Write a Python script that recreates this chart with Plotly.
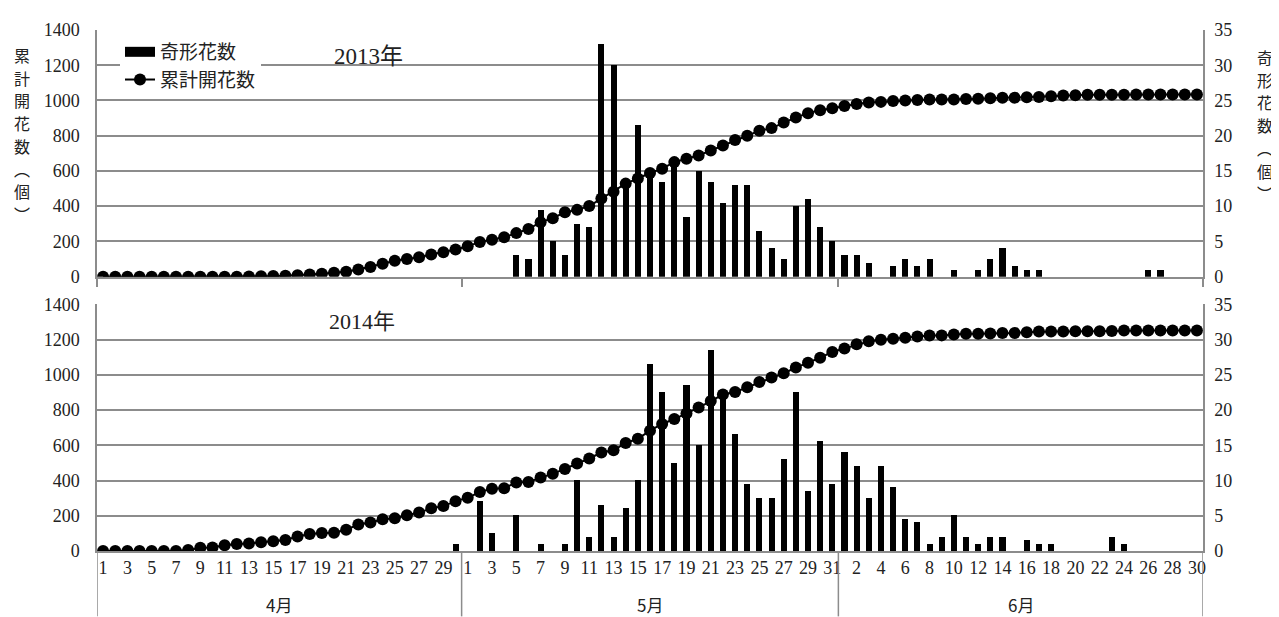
import plotly.graph_objects as go

# ---------------- data ----------------
months = ["4月", "5月", "6月"]
month_days = [30, 31, 30]
day_labels = [str(d) for n in month_days for d in range(1, n + 1)]

cum_2013 = [0, 0, 0, 0, 0, 0, 0, 0, 0, 0, 0, 0, 1, 2, 3, 5, 8, 12, 17, 22,
            28, 41, 55, 73, 90, 100, 110, 126, 139, 154,
            172, 197, 210, 223, 247, 270, 309, 332, 365, 379, 401, 444, 482, 528, 557,
            588, 613, 650, 669, 688, 716, 744, 776, 800, 828, 843, 875, 903, 928, 945, 956,
            969, 980, 988, 992, 997, 1000, 1003, 1005, 1006, 1006, 1008, 1010, 1012, 1015, 1016,
            1018, 1020, 1024, 1028, 1030, 1032, 1032, 1033, 1033, 1034, 1034, 1034, 1034, 1034, 1034]
mal_2013 = [0] * 30 + \
    [0, 0, 0, 0, 3, 2.5, 9.5, 5, 3, 7.5, 7, 33, 30, 13, 21.5, 14.5, 13.5, 15.5, 8.5, 15,
     13.5, 10.5, 13, 13, 6.5, 4, 2.5, 10, 11, 7, 5] + \
    [3, 3, 2, 0, 1.5, 2.5, 1.5, 2.5, 0, 1, 0, 1, 2.5, 4, 1.5, 1, 1, 0, 0, 0,
     0, 0, 0, 0, 0, 1, 1, 0, 0, 0]

cum_2014 = [0, 0, 0, 0, 0, 0, 0, 5, 18, 20, 33, 40, 42, 50, 56, 62, 82, 97, 102, 104,
            121, 150, 162, 180, 186, 203, 218, 242, 255, 283,
            302, 335, 354, 356, 389, 391, 417, 438, 466, 497, 525, 559, 572, 613, 637,
            683, 721, 749, 780, 814, 851, 888, 903, 929, 959, 985, 1009, 1041, 1069, 1097, 1130,
            1150, 1173, 1190, 1199, 1205, 1210, 1218, 1223, 1224, 1229, 1233, 1233, 1234, 1238, 1238,
            1242, 1246, 1246, 1246, 1248, 1248, 1248, 1249, 1251, 1251, 1251, 1251, 1251, 1251, 1251]
mal_2014 = [0] * 29 + [1] + \
    [0, 7, 2.5, 0, 5, 0, 1, 0, 1, 10, 2, 6.5, 2, 6, 10, 26.5, 22.5, 12.5, 23.5, 15,
     28.5, 21.5, 16.5, 9.5, 7.5, 7.5, 13, 22.5, 8.5, 15.5, 9.5] + \
    [14, 12, 7.5, 12, 9, 4.5, 4, 1, 2, 5, 2, 1, 2, 2, 0, 1.5, 1, 1, 0, 0,
     0, 0, 2, 1, 0, 0, 0, 0, 0, 0]

bar_name = "奇形花数"
line_name = "累計開花数"
left_title = "累計開花数(個)"
right_title = "奇形花数(個)"
year_labels = ["2013年", "2014年"]

# ---------------- derived ----------------
idx = list(range(len(day_labels)))
bounds = [-0.5]
for n in month_days:
    bounds.append(bounds[-1] + n)
month_mid = [(bounds[i] + bounds[i + 1]) / 2 for i in range(len(months))]

GRID = "#8c8c8c"
TXT = "#222222"
NUMF = "Liberation Serif"
CJK = "Noto Sans CJK JP"

W, H = 1271, 609
ML, MR, MT, MB = 89, 76, 17, 66
PH = H - MT - MB
PW = W - ML - MR


def py(ypix):  # pixel (from top of figure) -> paper y
    return (H - MB - ypix) / PH


def px(xpix):
    return (xpix - ML) / PW


fig = go.Figure()
fig.add_trace(go.Bar(x=idx, y=mal_2013, xaxis="x", yaxis="y", width=0.5,
                     marker=dict(color="black", line=dict(width=0)), name=bar_name,
                     showlegend=False, legendgroup="bar"))
# legend entry for the bars (wide black swatch as in the original legend)
fig.add_trace(go.Scatter(x=[None], y=[None], xaxis="x", yaxis="y", mode="lines",
                         line=dict(color="black", width=10), name=bar_name,
                         legendgroup="bar", hoverinfo="skip"))
fig.add_trace(go.Scatter(x=idx, y=cum_2013, xaxis="x", yaxis="y2", mode="lines+markers",
                         line=dict(color="black", width=2), marker=dict(size=12, color="black"),
                         name=line_name, legendgroup="line"))
fig.add_trace(go.Bar(x=idx, y=mal_2014, xaxis="x2", yaxis="y3", width=0.5,
                     marker=dict(color="black", line=dict(width=0)), name=bar_name,
                     showlegend=False, legendgroup="bar"))
fig.add_trace(go.Scatter(x=idx, y=cum_2014, xaxis="x2", yaxis="y4", mode="lines+markers",
                         line=dict(color="black", width=2), marker=dict(size=12, color="black"),
                         name=line_name, showlegend=False, legendgroup="line"))

top_dom = [py(266), 1.0]
bot_dom = [0.0, py(294)]
xr = [bounds[0], bounds[-1]]

common_x = dict(range=xr, showgrid=False, zeroline=False, showline=True,
                linecolor=GRID, linewidth=1.5, fixedrange=True)
right_y = dict(side="right", range=[0, 35], dtick=5, showgrid=True, gridcolor=GRID,
               gridwidth=1.5, zeroline=False, showline=True, linecolor=GRID, linewidth=1.5,
               tickfont=dict(family=NUMF, size=18, color=TXT), ticklabelstandoff=6)
left_y = dict(side="left", range=[0, 1400], dtick=200, showgrid=False, zeroline=False,
              showline=True, linecolor=GRID, linewidth=1.5,
              tickfont=dict(family=NUMF, size=18, color=TXT), ticklabelstandoff=12)

fig.update_layout(
    width=W, height=H,
    margin=dict(l=ML, r=MR, t=MT, b=MB),
    paper_bgcolor="white", plot_bgcolor="white",
    bargap=0,
    xaxis=dict(domain=[0, 1], anchor="y", tickvals=bounds, ticks="outside", ticklen=9,
               tickcolor=GRID, tickwidth=1.5, showticklabels=False, **common_x),
    yaxis=dict(domain=top_dom, anchor="x", **right_y),
    yaxis2=dict(overlaying="y", anchor="x", **left_y),
    xaxis2=dict(domain=[0, 1], anchor="y3", tickvals=idx[::2], ticktext=day_labels[::2],
                ticks="", tickfont=dict(family=NUMF, size=18, color=TXT), tickangle=0,
                **common_x),
    yaxis3=dict(domain=bot_dom, anchor="x2", **right_y),
    yaxis4=dict(overlaying="y3", anchor="x2", **left_y),
    legend=dict(x=px(112), y=py(20), xanchor="left", yanchor="top", bgcolor="white",
                font=dict(family=CJK, size=19, color=TXT), tracegroupgap=0,
                itemwidth=30),
    showlegend=True,
)

ann = [
    dict(text=year_labels[0], x=px(360), y=py(44), xref="paper", yref="paper",
         xanchor="center", yanchor="middle", showarrow=False,
         font=dict(family=NUMF + ", " + CJK, size=23, color=TXT)),
    dict(text=year_labels[1], x=px(354), y=py(311), xref="paper", yref="paper",
         xanchor="center", yanchor="middle", showarrow=False,
         font=dict(family=NUMF + ", " + CJK, size=22, color=TXT)),
]


def vertical_title(text, xpix, ystart, step=23):
    out = []
    for k, ch in enumerate(text):
        glyph = {"(": "\ufe35", ")": "\ufe36"}.get(ch, ch)
        out.append(dict(text=glyph, x=px(xpix), y=py(ystart + step * k), xref="paper",
                        yref="paper", xanchor="center", yanchor="middle", showarrow=False,
                        font=dict(family=CJK, size=16, color=TXT)))
    return out


ann += vertical_title(left_title, 14, 42)
ann += vertical_title(right_title, 1257, 44)

for m, xm in zip(months, month_mid):
    ann.append(dict(text=m, x=xm, y=py(597), xref="x2", yref="paper", showarrow=False,
                    xanchor="center", yanchor="middle",
                    font=dict(family=CJK, size=17, color=TXT)))
fig.update_layout(annotations=ann)

shapes = []
for b in bounds:
    shapes.append(dict(type="line", xref="x2", yref="paper", x0=b, x1=b, y0=0, y1=py(H),
                       line=dict(color=GRID, width=1.5)))
fig.update_layout(shapes=shapes)

fig.write_html("out.html")
